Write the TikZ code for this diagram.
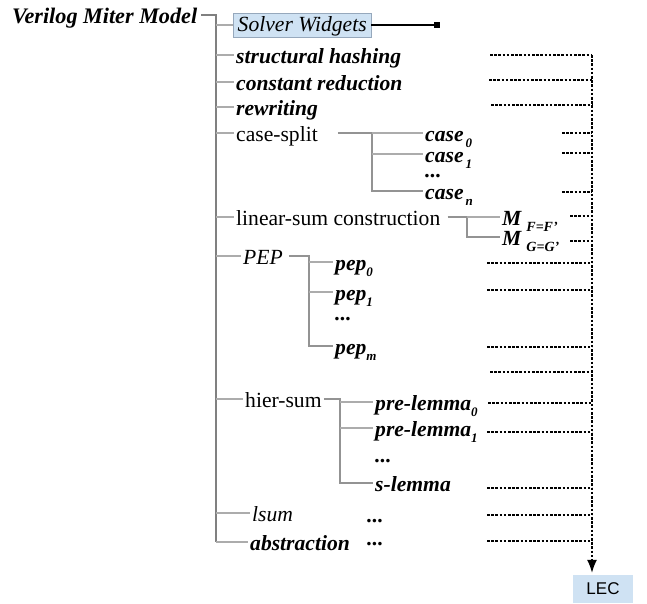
\documentclass[tikz,border=0pt]{standalone}
\usepackage{fontspec}
\setmainfont{Liberation Serif}
\setsansfont{Liberation Sans}
\usetikzlibrary{arrows.meta}
\definecolor{trunkc}{RGB}{128,128,128}
\definecolor{branchc}{RGB}{172,172,172}
\definecolor{boxblue}{RGB}{207,226,243}
\definecolor{boxedge}{RGB}{150,168,188}
\newcommand\lowsub[1]{\raisebox{-0.28em}{\fontsize{13}{13}\selectfont\bfseries\itshape #1}}
\begin{document}
\begin{tikzpicture}[x=1pt,y=-1pt,
  lbl/.style={anchor=west,inner xsep=2pt,inner ysep=0pt,text height=20.5pt,text depth=4.3pt,font=\fontsize{21.6}{24}\selectfont},
  bi/.style={lbl,font=\fontsize{21.6}{24}\selectfont\bfseries\itshape},
  it/.style={lbl,font=\fontsize{21.6}{24}\selectfont\itshape},
  dotsn/.style={anchor=west,inner xsep=2pt,inner ysep=0pt,text height=4pt,text depth=0pt,font=\fontsize{21.6}{24}\selectfont\bfseries\itshape},
  trunk/.style={draw=trunkc,line width=1.3pt},
  branch/.style={draw=branchc,line width=1.2pt},
  sub/.style={draw=trunkc!85,line width=1.2pt},
  dotl/.style={draw=black,line width=1.3pt,dash pattern=on 2.6pt off 1.6pt},
]
\useasboundingbox (0,0) rectangle (647,604);

% root and trunk
\node[bi,inner xsep=0pt,font=\fontsize{22.2}{24}\selectfont\bfseries\itshape] (vmm) at (12,15) {Verilog Miter Model};
\coordinate (t0) at (216,15);
\coordinate (tend) at (216,542);

% first level
\node[it,draw=boxedge,fill=boxblue,minimum width=138pt,inner xsep=4pt,text height=19pt,text depth=5pt] (solver) at (233,25) {Solver Widgets};
\coordinate (sq) at (440,25);
\node[bi] (struct) at (234,55) {structural hashing};
\node[bi] (const) at (234,82) {constant reduction};
\node[bi] (rewr) at (234,107) {rewriting};
\node[lbl] (csplit) at (234,133) {case-split};
\node[lbl] (linsum) at (234,217) {linear-sum construction};
\node[it] (pep) at (241,256) {PEP};
\node[lbl] (hier) at (243,399) {hier-sum};
\node[it] (lsum) at (250,513) {lsum};
\node[bi] (abstr) at (248,542) {abstraction};
\node[dotsn] (ldots) at (365,520) {...};
\node[dotsn] (adots) at (365,543) {...};

% case-split children
\coordinate (cs) at (372,133);
\node[bi] (case0) at (423,133) {case\hspace{2pt}\lowsub{0}};
\node[bi] (case1) at (423,154) {case\hspace{2pt}\lowsub{1}};
\node[dotsn] (cdots) at (423,176) {...};
\node[bi] (casen) at (423,191) {case\hspace{2pt}\lowsub{n}};

% linear-sum children
\coordinate (ls) at (467,217);
\node[bi] (mf) at (500,217) {M\hspace{5pt}\lowsub{\fontsize{14}{14}\selectfont F=F'}};
\node[bi] (mg) at (500,237) {M\hspace{5pt}\lowsub{\fontsize{14}{14}\selectfont G=G'}};

% PEP children
\coordinate (pc) at (309,256);
\node[bi] (pep0) at (333,262) {pep\lowsub{0}};
\node[bi] (pep1) at (333,292) {pep\lowsub{1}};
\node[dotsn] (pdots) at (333,318) {...};
\node[bi] (pepm) at (333,346) {pep\lowsub{m}};

% hier-sum children
\coordinate (hc) at (340,399);
\node[bi] (pre0) at (373,402) {pre-lemma\lowsub{0}};
\node[bi] (pre1) at (373,428) {pre-lemma\lowsub{1}};
\node[dotsn] (hdots) at (373,460) {...};
\node[bi] (slem) at (373,483) {s-lemma};

% LEC
\node[fill=boxblue,minimum width=60pt,minimum height=28pt,inner sep=0pt,font=\sffamily\fontsize{17}{17}\selectfont] (lec) at (603,589) {LEC};

% tree connectors
\draw[trunk,shorten <=4pt] (vmm.east) -- (t0) -- (tend);
\draw[branch] (t0 |- solver.west) -- (solver.west);
\draw[branch] (t0 |- struct.west) -- (struct.west);
\draw[branch] (t0 |- const.west) -- (const.west);
\draw[branch] (t0 |- rewr.west) -- (rewr.west);
\draw[branch] (t0 |- csplit.west) -- (csplit.west);
\draw[branch] (t0 |- linsum.west) -- (linsum.west);
\draw[branch] (t0 |- pep.west) -- (pep.west);
\draw[branch] (t0 |- hier.west) -- (hier.west);
\draw[branch] (t0 |- lsum.west) -- (lsum.west);
\draw[branch] (t0 |- abstr.west) -- (abstr.west);

\draw[line width=1.1pt,-{Square[length=6pt,width=6pt]}] (solver.east) -- (sq);

\draw[sub,shorten <=18pt] (csplit.east) -| (cs |- casen.west) -- (casen.west);
\draw[branch] (cs) -- (case0.west);
\draw[branch] (cs |- case1.west) -- (case1.west);

\draw[sub,shorten <=5pt] (linsum.east) -| (ls |- mg.west) -- (mg.west);
\draw[branch] (ls) -- (mf.west);

\draw[sub,shorten <=4pt] (pep.east) -| (pc |- pepm.west) -- (pepm.west);
\draw[branch] (pc |- pep0.west) -- (pep0.west);
\draw[branch] (pc |- pep1.west) -- (pep1.west);

\draw[sub] (hier.east) -| (hc |- slem.west) -- (slem.west);
\draw[branch] (hc |- pre0.west) -- (pre0.west);
\draw[branch] (hc |- pre1.west) -- (pre1.west);

% dotted collectors
\coordinate (bus) at (592,55);
\foreach \xx/\yy [count=\i] in {490/55,489/80,491/105,562/133,562/153,562/192,570/216,570/241,487/263,487/290,487/347,490/372,488/403,487/432,487/488,487/515,487/541}{
  \coordinate (d\i) at (\xx,\yy);
  \draw[dotl] (d\i) -- (d\i -| bus);
}
\draw[dotl,-{Latex[length=13pt,width=10pt]},shorten >=2pt] (bus) -- (bus |- lec.north);
\end{tikzpicture}
\end{document}
